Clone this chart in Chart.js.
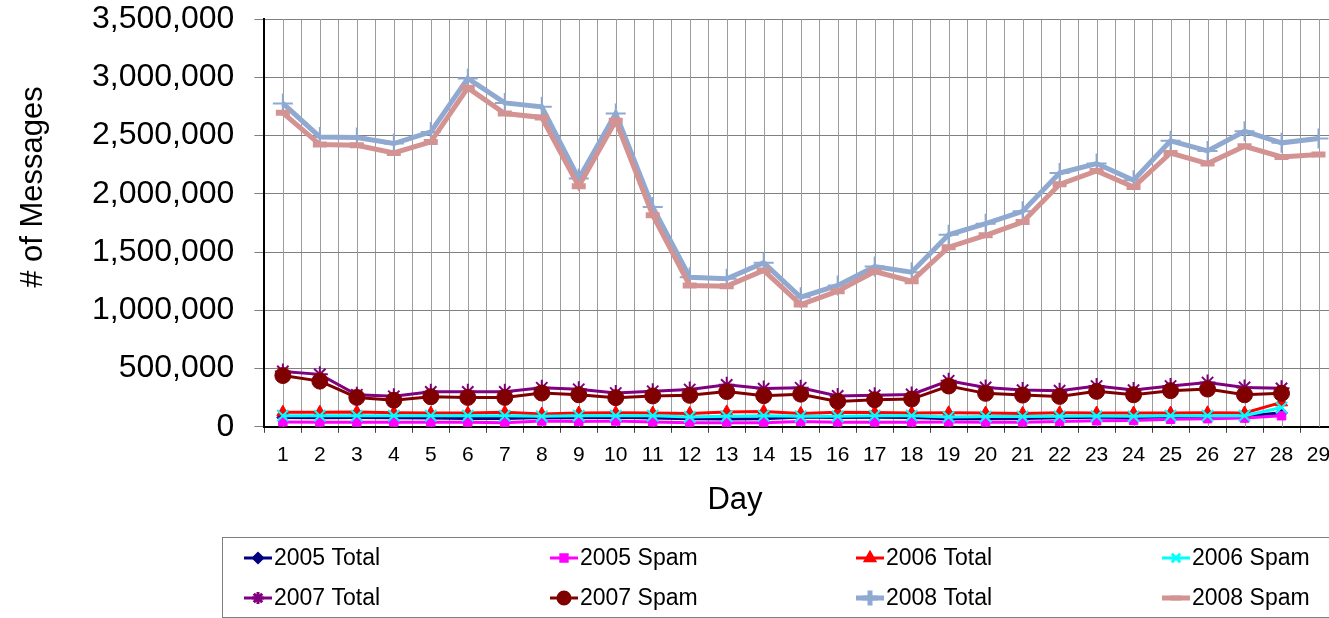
<!DOCTYPE html>
<html>
<head>
<meta charset="utf-8">
<script src="https://cdn.jsdelivr.net/npm/chart.js@4.4.0/dist/chart.umd.min.js"></script>
<style>
html,body{margin:0;padding:0;background:#fff;overflow:hidden;}
#wrap{position:relative;width:1350px;height:618px;}
</style>
</head>
<body>
<div id="wrap"><canvas id="c"></canvas></div>
<script>
const days = ['1','2','3','4','5','6','7','8','9','10','11','12','13','14','15','16','17','18','19','20','21','22','23','24','25','26','27','28','29'];
const yTicks = [0,500000,1000000,1500000,2000000,2500000,3000000,3500000];
const seriesNames = ['2005 Total','2005 Spam','2006 Total','2006 Spam','2007 Total','2007 Spam','2008 Total','2008 Spam'];

const total2005 = [80000,78000,80000,78000,75000,72000,72000,80000,78000,82000,75000,70000,68000,70000,85000,80000,82000,80000,70000,70000,72000,78000,82000,80000,85000,88000,90000,120000];
const spam2005  = [42000,38000,38000,40000,38000,38000,35000,50000,45000,50000,42000,35000,35000,35000,45000,40000,40000,40000,42000,38000,38000,45000,52000,55000,65000,70000,75000,95000];
const total2006 = [125000,125000,128000,120000,118000,118000,125000,110000,118000,120000,118000,115000,128000,132000,115000,125000,122000,118000,120000,118000,115000,120000,118000,118000,118000,120000,118000,210000];
const spam2006  = [95000,95000,95000,95000,95000,95000,95000,90000,95000,95000,95000,85000,90000,95000,90000,90000,95000,95000,85000,88000,88000,90000,92000,90000,95000,95000,95000,165000];
const total2007 = [475000,450000,275000,262000,300000,300000,300000,335000,322000,290000,305000,320000,360000,328000,335000,265000,270000,278000,395000,338000,315000,310000,350000,315000,350000,380000,338000,330000];
const spam2007  = [440000,392000,252000,228000,258000,252000,252000,290000,275000,250000,265000,270000,302000,267000,280000,218000,232000,238000,350000,287000,272000,261000,304000,275000,310000,324000,275000,287000];
const total2008 = [2775000,2488000,2483000,2431000,2531000,2990000,2780000,2746000,2130000,2689000,1886000,1284000,1270000,1408000,1112000,1213000,1376000,1327000,1648000,1743000,1849000,2178000,2259000,2116000,2454000,2368000,2537000,2437000,2474000];
const spam2008  = [2695000,2422000,2417000,2350000,2445000,2909000,2689000,2655000,2064000,2626000,1815000,1213000,1207000,1342000,1049000,1164000,1333000,1250000,1542000,1643000,1757000,2081000,2196000,2058000,2350000,2259000,2408000,2316000,2337000];

const FONT = "'Liberation Sans', Arial, sans-serif";

const styles = [
  {color:'#000080', pointStyle:'rectRot', radius:6, width:3, pbw:1},
  {color:'#FF00FF', pointStyle:'rect', radius:6, width:3, pbw:1},
  {color:'#FF0000', pointStyle:'triangle', radius:7, width:3, pbw:1},
  {color:'#00FFFF', pointStyle:'crossRot', radius:8, width:3, pbw:2},
  {color:'#800080', pointStyle:'star', radius:8, width:3, pbw:2},
  {color:'#800000', pointStyle:'circle', radius:8, width:3, pbw:1},
  {color:'#8FA9D1', pointStyle:'cross', radius:10, width:5, pbw:2},
  {color:'#D39392', pointStyle:'line', radius:7, width:5, pbw:6}
];
const values = [total2005, spam2005, total2006, spam2006, total2007, spam2007, total2008, spam2008];

const datasets = seriesNames.map((name, i) => ({
  label: name,
  data: values[i],
  borderColor: styles[i].color,
  backgroundColor: styles[i].color,
  pointBackgroundColor: styles[i].color,
  pointBorderColor: styles[i].color,
  borderWidth: styles[i].width,
  pointStyle: styles[i].pointStyle,
  pointRadius: styles[i].radius,
  pointBorderWidth: styles[i].pbw,
  pointHoverRadius: styles[i].radius,
  tension: 0,
  fill: false,
  order: seriesNames.length - i
}));

// extra vertical gridlines at the category centres, placed by the x scale
const centreGrid = {
  id: 'centreGrid',
  beforeDatasetsDraw(chart) {
    const ctx = chart.ctx, x = chart.scales.x, a = chart.chartArea;
    ctx.save();
    ctx.strokeStyle = '#9c9c9c';
    ctx.lineWidth = 1;
    chart.data.labels.forEach((lab, i) => {
      const px = Math.round(x.getPixelForValue(i)) + 0.5;
      ctx.beginPath();
      ctx.moveTo(px, a.top);
      ctx.lineTo(px, a.bottom);
      ctx.stroke();
    });
    ctx.restore();
  }
};

const decor = {
  id: 'decor',
  afterDraw(chart) {
    const ctx = chart.ctx;
    ctx.save();
    ctx.fillStyle = '#000';
    ctx.textAlign = 'center';
    ctx.textBaseline = 'middle';
    ctx.font = "31px " + FONT;
    ctx.fillText('Day', 735, 500);
    ctx.save();
    ctx.translate(33, 187);
    ctx.rotate(-Math.PI / 2);
    ctx.font = "31px " + FONT;
    ctx.fillText('# of Messages', 0, 0);
    ctx.restore();
    ctx.strokeStyle = '#7f7f7f';
    ctx.lineWidth = 1;
    ctx.strokeRect(222.5, 537.5, 1200, 80);
    ctx.font = "23px " + FONT;
    ctx.textAlign = 'left';
    chart.data.datasets.forEach((ds, i) => {
      const col = i % 4, row = Math.floor(i / 4);
      const x0 = 244 + col * 306;
      const y = 558 + row * 40;
      ctx.strokeStyle = ds.borderColor;
      ctx.lineWidth = ds.borderWidth;
      ctx.beginPath();
      ctx.moveTo(x0, y);
      ctx.lineTo(x0 + 28, y);
      ctx.stroke();
      ctx.fillStyle = ds.pointBackgroundColor;
      ctx.strokeStyle = ds.pointBorderColor;
      if (Chart.helpers && Chart.helpers.drawPoint) {
        Chart.helpers.drawPoint(ctx, {
          pointStyle: ds.pointStyle,
          radius: ds.pointRadius * 0.75,
          borderWidth: ds.pointBorderWidth,
          rotation: 0
        }, x0 + 14, y);
      }
      ctx.fillStyle = '#000';
      ctx.textBaseline = 'middle';
      ctx.fillText(ds.label, x0 + 30, y + 1);
    });
    ctx.restore();
  }
};

new Chart(document.getElementById('c'), {
  type: 'line',
  data: { labels: days, datasets: datasets },
  plugins: [centreGrid, decor],
  options: {
    responsive: true,
    maintainAspectRatio: false,
    animation: false,
    events: [],
    layout: { padding: { left: 72, top: 0, right: 0, bottom: 140 } },
    plugins: { legend: { display: false }, tooltip: { enabled: false }, title: { display: false } },
    scales: {
      x: {
        type: 'category',
        offset: true,
        grid: { offset: true, color: '#9c9c9c', lineWidth: 1, drawTicks: true, tickLength: 6, tickColor: '#404040' },
        border: { display: true, color: '#000', width: 2 },
        ticks: { autoSkip: false, maxRotation: 0, minRotation: 0, padding: 10, color: '#000', font: { family: FONT, size: 21 } }
      },
      y: {
        min: 0,
        max: 3500000,
        afterBuildTicks: (axis) => { axis.ticks = yTicks.map(v => ({ value: v })); },
        afterFit: (axis) => { axis.paddingTop = 19; axis.paddingBottom = 0; },
        grid: { color: '#808080', lineWidth: 1, drawTicks: true, tickLength: 10, tickColor: '#808080' },
        border: { display: true, color: '#000', width: 2 },
        ticks: {
          padding: 20,
          color: '#000',
          font: { family: FONT, size: 32 },
          callback: (v) => Number(v).toLocaleString('en-US')
        }
      }
    }
  }
});
</script>
</body>
</html>
